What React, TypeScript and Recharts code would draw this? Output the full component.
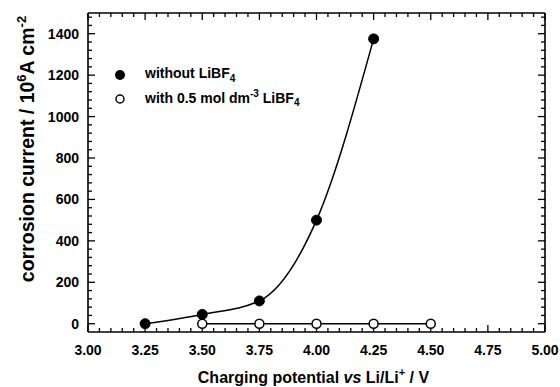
import { Legend, Line, LineChart, ReferenceLine, XAxis, YAxis } from "recharts";

const xTicks = [3, 3.25, 3.5, 3.75, 4, 4.25, 4.5, 4.75, 5];
const xMinorTicks = Array.from({ length: 41 }, (_, i) => Math.round((3 + i * 0.05) * 100) / 100);
const yTicks = [0, 200, 400, 600, 800, 1000, 1200, 1400];
const yMinorTicks = Array.from({ length: 38 }, (_, i) => i * 40);

const withoutX = [3.25, 3.5, 3.75, 4.0, 4.25];
const withoutY = [0, 45, 110, 500, 1375];
const withX = [3.5, 3.75, 4.0, 4.25, 4.5];
const withY = [0, 0, 0, 0, 0];

const withoutData = withoutX.map((x, i) => ({ x, y: withoutY[i] }));
const withData = withX.map((x, i) => ({ x, y: withY[i] }));

const X_DOMAIN = [3, 5];
const Y_DOMAIN = [-40, 1500];

const FONT = "'Liberation Sans', Arial, Helvetica, sans-serif";
const WEIGHT = 700;

// plot box is 457 x 319 px; tick lengths in px converted to data units
const PLOT_W = 457;
const PLOT_H = 319;
const MAJOR = 7;
const MINOR = 4;
const pxX = (X_DOMAIN[1] - X_DOMAIN[0]) / PLOT_W;
const pxY = (Y_DOMAIN[1] - Y_DOMAIN[0]) / PLOT_H;

const isMajorX = (v: number) => xTicks.some((t) => Math.abs(t - v) < 1e-6);
const isMajorY = (v: number) => yTicks.includes(v);

function BottomTick(props: any) {
  const { x, y, payload } = props;
  if (!isMajorX(Number(payload.value))) return <g />;
  return (
    <text x={x} y={Number(y) + 23} textAnchor="middle" fontSize={14} fontWeight={WEIGHT} fill="#000" fontFamily={FONT}>
      {Number(payload.value).toFixed(2)}
    </text>
  );
}

function LeftTick(props: any) {
  const { x, y, payload } = props;
  if (!isMajorY(Number(payload.value))) return <g />;
  return (
    <text x={Number(x) - 9} y={Number(y) + 5} textAnchor="end" fontSize={14} fontWeight={WEIGHT} fill="#000" fontFamily={FONT}>
      {payload.value}
    </text>
  );
}

function YLabel() {
  return (
    <text
      x={34}
      y={149}
      transform="rotate(-90 34 149)"
      textAnchor="middle"
      fontSize={19.5}
      fontWeight={WEIGHT}
      fill="#000"
      fontFamily={FONT}
    >
      <tspan>corrosion current / 10</tspan>
      <tspan dy={-8} fontSize={13}>6</tspan>
      <tspan dy={8}>A cm</tspan>
      <tspan dy={-8} fontSize={13}>-2</tspan>
    </text>
  );
}

function XLabel(props: any) {
  const vb = props.viewBox || { x: 88, y: 332, width: 457 };
  const cx = vb.x + vb.width / 2;
  return (
    <text x={cx - 3} y={383} textAnchor="middle" fontSize={16} fontWeight={WEIGHT} fill="#000" fontFamily={FONT}>
      <tspan>Charging potential </tspan>
      <tspan fontStyle="italic">vs</tspan>
      <tspan> Li/Li</tspan>
      <tspan dy={-7} fontSize={11}>+</tspan>
      <tspan dy={7}> / V</tspan>
    </text>
  );
}

function LegendBox() {
  const row = { display: "flex", alignItems: "center", height: 24 } as const;
  return (
    <div style={{ fontFamily: FONT, fontSize: 14, fontWeight: WEIGHT, color: "#000", lineHeight: 1 }}>
      <div style={row}>
        <svg width={31} height={12}>
          <circle cx={6} cy={6} r={5} fill="#000" />
        </svg>
        <span>
          without LiBF<sub style={{ fontSize: 10 }}>4</sub>
        </span>
      </div>
      <div style={row}>
        <svg width={31} height={12}>
          <circle cx={6} cy={6} r={4} fill="#fff" stroke="#000" strokeWidth={1.5} />
        </svg>
        <span>
          with 0.5 mol dm<sup style={{ fontSize: 10 }}>-3</sup> LiBF<sub style={{ fontSize: 10 }}>4</sub>
        </span>
      </div>
    </div>
  );
}

const axisStroke = { stroke: "#000", strokeWidth: 1.6 };
const tickProps = { stroke: "#000", strokeWidth: 1.3, xAxisId: "bottom", yAxisId: "left" };

export default function App() {
  const [y0, y1] = Y_DOMAIN;
  const [x0, x1] = X_DOMAIN;
  return (
    <div style={{ position: "absolute", left: 0, top: 0, width: 560, height: 387, background: "#fff", fontFamily: FONT }}>
      <LineChart width={560} height={387} margin={{ top: 12, right: 14, bottom: 0, left: 0 }}>
        <XAxis
          xAxisId="bottom"
          type="number"
          dataKey="x"
          domain={X_DOMAIN}
          ticks={xMinorTicks}
          interval={0}
          height={55}
          tickSize={0}
          tickMargin={0}
          tick={BottomTick}
          tickLine={false}
          axisLine={axisStroke}
          label={<XLabel />}
        />
        <XAxis
          xAxisId="top"
          orientation="top"
          type="number"
          dataKey="x"
          domain={X_DOMAIN}
          ticks={xTicks}
          height={1}
          tick={false}
          tickLine={false}
          axisLine={axisStroke}
        />
        <YAxis
          yAxisId="left"
          type="number"
          domain={Y_DOMAIN}
          ticks={yMinorTicks}
          interval={0}
          width={88}
          tickSize={0}
          tickMargin={0}
          tick={LeftTick}
          tickLine={false}
          axisLine={axisStroke}
          label={<YLabel />}
        />
        <YAxis
          yAxisId="right"
          orientation="right"
          type="number"
          domain={Y_DOMAIN}
          ticks={yTicks}
          width={1}
          tick={false}
          tickLine={false}
          axisLine={axisStroke}
        />
        {xMinorTicks.map((v) => {
          const len = (isMajorX(v) ? MAJOR : MINOR) * pxY;
          return [
            <ReferenceLine key={`b${v}`} {...tickProps} segment={[{ x: v, y: y0 }, { x: v, y: y0 + len }]} />,
            <ReferenceLine key={`t${v}`} {...tickProps} segment={[{ x: v, y: y1 }, { x: v, y: y1 - len }]} />,
          ];
        })}
        {yMinorTicks.map((v) => {
          const len = (isMajorY(v) ? MAJOR : MINOR) * pxX;
          return [
            <ReferenceLine key={`l${v}`} {...tickProps} segment={[{ x: x0, y: v }, { x: x0 + len, y: v }]} />,
            <ReferenceLine key={`r${v}`} {...tickProps} segment={[{ x: x1, y: v }, { x: x1 - len, y: v }]} />,
          ];
        })}
        <Legend
          layout="vertical"
          verticalAlign="middle"
          align="center"
          content={<LegendBox />}
          wrapperStyle={{ position: "absolute", left: 114, top: 63, width: 260 }}
        />
        <Line
          xAxisId="bottom"
          yAxisId="left"
          data={withoutData}
          dataKey="y"
          name="without LiBF4"
          type="monotone"
          stroke="#000"
          strokeWidth={1.5}
          dot={{ r: 5, fill: "#000", stroke: "#000", strokeWidth: 1 }}
          activeDot={false}
          isAnimationActive={false}
        />
        <Line
          xAxisId="top"
          yAxisId="right"
          data={withData}
          dataKey="y"
          name="with 0.5 mol dm-3 LiBF4"
          type="linear"
          stroke="#000"
          strokeWidth={1.5}
          dot={{ r: 4.5, fill: "#fff", stroke: "#000", strokeWidth: 1.5 }}
          activeDot={false}
          isAnimationActive={false}
        />
      </LineChart>
    </div>
  );
}
